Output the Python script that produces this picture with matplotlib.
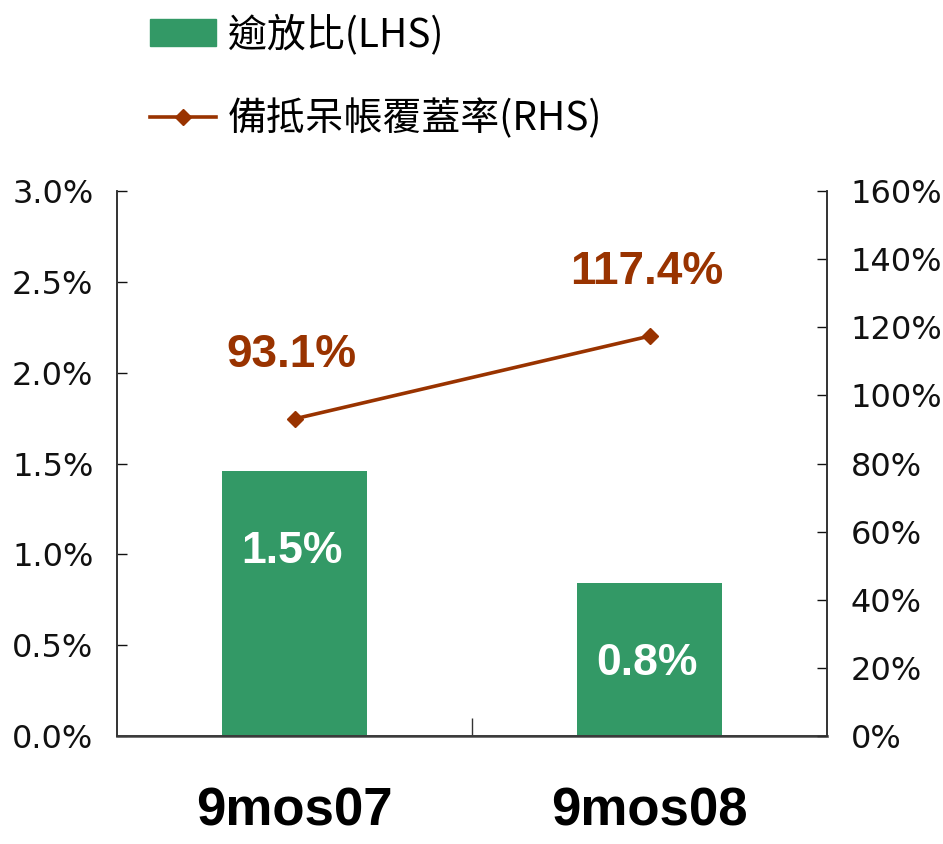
import matplotlib
matplotlib.use("Agg")
import matplotlib.pyplot as plt
from matplotlib.lines import Line2D
from matplotlib.patches import Patch
from matplotlib.ticker import FuncFormatter

periods = ["9mos07", "9mos08"]
npl_ratio = [1.46, 0.84]          # % (LHS)
npl_labels = ["1.5%", "0.8%"]
coverage = [93.1, 117.4]          # % (RHS)
coverage_labels = ["93.1%", "117.4%"]

green = "#339966"
brown = "#993300"

fig = plt.figure(figsize=(9.43, 8.44), dpi=100)
ax = fig.add_axes([117 / 943, 1 - 736 / 844, 710 / 943, 545 / 844])
ax2 = ax.twinx()

x = list(range(len(periods)))
ax.bar(x, npl_ratio, width=0.41, color=green, zorder=2)
for xi, v, lab in zip(x, npl_ratio, npl_labels):
    ax.annotate(lab, (xi, v), xytext=(-2, -58), textcoords="offset points",
                ha="center", va="center", color="white", fontsize=32,
                fontweight="bold", family="Liberation Sans")

ax2.plot(x, coverage, color=brown, lw=2.6, marker="D", ms=8, zorder=3)
for xi, v, lab in zip(x, coverage, coverage_labels):
    ax2.annotate(lab, (xi, v), xytext=(-2, 46), textcoords="offset points",
                 ha="center", va="center", color=brown, fontsize=33,
                 fontweight="bold", family="Liberation Sans")

ax.set_xlim(-0.5, 1.5)
ax.set_ylim(0, 3.0)
ax.set_yticks([0, 0.5, 1.0, 1.5, 2.0, 2.5, 3.0])
ax.yaxis.set_major_formatter(FuncFormatter(lambda v, p: f"{v:.1f}%"))
ax2.set_ylim(0, 160)
ax2.set_yticks(range(0, 161, 20))
ax2.yaxis.set_major_formatter(FuncFormatter(lambda v, p: f"{v:.0f}%"))

ax.set_xticks(x)
ax.set_xticklabels(periods, fontsize=38, fontweight="bold", family="Liberation Sans")
ax.set_xticks([0.5], minor=True)
ax.tick_params(axis="x", which="major", length=0, pad=36)
ax.tick_params(axis="x", which="minor", direction="in", length=13, width=1, color="#333333")
ax.tick_params(axis="y", direction="in", length=7, width=1, pad=17, labelsize=23, colors="#111111")
ax2.tick_params(axis="y", direction="in", length=7, width=1, pad=17, labelsize=23, colors="#111111")

for a in (ax, ax2):
    a.spines["top"].set_visible(False)
    for s in ("left", "right", "bottom"):
        a.spines[s].set_color("#333333")
        a.spines[s].set_linewidth(1.2)
ax.spines["bottom"].set_linewidth(2)
ax.spines["bottom"].set_color("#666666")

handles = [Patch(facecolor=green, edgecolor=green),
           Line2D([], [], color=brown, lw=2.6, marker="D", ms=8)]
labels = ["逾放比(LHS)", "備抵呆帳覆蓋率(RHS)"]
fig.legend(handles, labels, loc="upper left", bbox_to_anchor=(150 / 943, 1 - 14 / 844),
           frameon=False, handlelength=1.7, handleheight=0.7,
           handletextpad=0.3, labelspacing=1.13, borderpad=0, borderaxespad=0,
           prop={"family": ["Noto Sans CJK TC", "DejaVu Sans"], "size": 28})

fig.savefig("out.png", dpi=100)
